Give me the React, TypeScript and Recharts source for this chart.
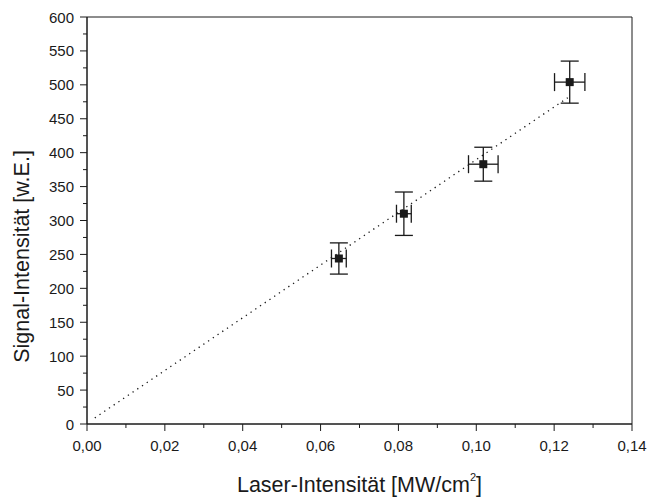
import {
  ScatterChart,
  Scatter,
  XAxis,
  YAxis,
  ErrorBar,
  ReferenceArea,
  Label,
} from "recharts";

const laserIntensity = [0.0647, 0.0814, 0.1018, 0.124];
const laserErr = [0.0019, 0.0019, 0.0038, 0.0039];
const signal = [244, 310, 383, 504];
const signalErr = [23, 32, 25, 31];

const fitX = [0.002, 0.1235];
const fitY = [9, 481];

const xTicks = [
  0, 0.01, 0.02, 0.03, 0.04, 0.05, 0.06, 0.07, 0.08, 0.09, 0.1, 0.11, 0.12,
  0.13, 0.14,
];
const yTicks = [
  0, 25, 50, 75, 100, 125, 150, 175, 200, 225, 250, 275, 300, 325, 350, 375,
  400, 425, 450, 475, 500, 525, 550, 575, 600,
];

const points = laserIntensity.map((x, i) => ({
  x,
  y: signal[i],
  ex: laserErr[i],
  ey: signalErr[i],
}));
const fit = fitX.map((x, i) => ({ x, y: fitY[i] }));

const FONT = "'Liberation Sans', Arial, sans-serif";
const INK = "#1a1a1a";

function XTick(props: any) {
  const { x, y, payload } = props;
  const v = payload.value;
  const major = Math.round(v * 100) % 2 === 0;
  return (
    <g>
      <line x1={x} x2={x} y1={y} y2={y + (major ? 7 : 4)} stroke={INK} />
      {major && (
        <text
          x={x}
          y={y + 27}
          textAnchor="middle"
          fontSize={15}
          fontFamily={FONT}
          fill={INK}
        >
          {v.toFixed(2).replace(".", ",")}
        </text>
      )}
    </g>
  );
}

function YTick(props: any) {
  const { x, y, payload } = props;
  const v = payload.value;
  const major = v % 50 === 0;
  return (
    <g>
      <line x1={x} x2={x - (major ? 7 : 4)} y1={y} y2={y} stroke={INK} />
      {major && (
        <text
          x={x - 13}
          y={y + 5.5}
          textAnchor="end"
          fontSize={15}
          fontFamily={FONT}
          fill={INK}
        >
          {v}
        </text>
      )}
    </g>
  );
}

function Square(props: any) {
  const { cx, cy } = props;
  return <rect x={cx - 4} y={cy - 4} width={8} height={8} fill={INK} />;
}

export default function App() {
  return (
    <div style={{ position: "absolute", left: 0, top: 0 }}>
      <ScatterChart
        width={649}
        height={498}
        margin={{ top: 17, right: 17, left: 0, bottom: 0 }}
      >
        <XAxis
          type="number"
          dataKey="x"
          domain={[0, 0.14]}
          ticks={xTicks}
          interval={0}
          height={74}
          tickSize={0}
          tickMargin={0}
          tickLine={false}
          tick={<XTick />}
          axisLine={{ stroke: INK }}
        >
          <Label
            content={(p: any) => {
              const vb = p.viewBox;
              return (
                <text
                  x={vb.x + vb.width / 2}
                  y={vb.y + 68}
                  textAnchor="middle"
                  fontSize={21.5}
                  fontFamily={FONT}
                  fill={INK}
                >
                  Laser-Intensität [MW/cm
                  <tspan fontSize={11} dy={-11} dx={0}>
                    2
                  </tspan>
                  <tspan dy={11} dx={0}>]</tspan>
                </text>
              );
            }}
          />
        </XAxis>
        <YAxis
          type="number"
          dataKey="y"
          domain={[0, 600]}
          ticks={yTicks}
          interval={0}
          width={87}
          tickSize={0}
          tickMargin={0}
          tickLine={false}
          tick={<YTick />}
          axisLine={{ stroke: INK }}
        >
          <Label
            content={(p: any) => {
              const vb = p.viewBox;
              const cx = vb.x + 29;
              const cy = vb.y + vb.height / 2 + 36;
              return (
                <text
                  x={cx}
                  y={cy}
                  transform={`rotate(-90 ${cx} ${cy})`}
                  textAnchor="middle"
                  fontSize={21.5}
                  fontFamily={FONT}
                  fill={INK}
                >
                  Signal-Intensität [w.E.]
                </text>
              );
            }}
          />
        </YAxis>
        <ReferenceArea
          x1={0}
          x2={0.14}
          y1={0}
          y2={600}
          fill="none"
          stroke={INK}
          strokeWidth={1}
        />
        <Scatter
          data={fit}
          line={{ stroke: INK, strokeWidth: 1.3, strokeDasharray: "1.3 4.4" }}
          shape={() => <g />}
          isAnimationActive={false}
        />
        <Scatter data={points} shape={<Square />} isAnimationActive={false}>
          <ErrorBar
            dataKey="ey"
            direction="y"
            width={9}
            stroke={INK}
            strokeWidth={1.3}
            isAnimationActive={false}
          />
          <ErrorBar
            dataKey="ex"
            direction="x"
            width={9}
            stroke={INK}
            strokeWidth={1.3}
            isAnimationActive={false}
          />
        </Scatter>
      </ScatterChart>
    </div>
  );
}
